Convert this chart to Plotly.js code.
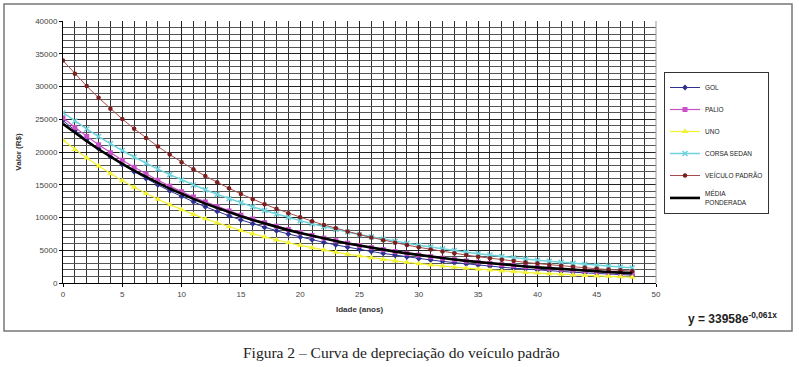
<!DOCTYPE html>
<html>
<head>
<meta charset="utf-8">
<script src="https://cdn.plot.ly/plotly-3.0.1.min.js"></script>
<style>
html,body{margin:0;padding:0;background:#fff;}
#chart{width:799px;height:367px;}
</style>
</head>
<body>
<div id="chart"></div>
<script>
// ---- data ----
const idade = [0,1,2,3,4,5,6,7,8,9,10,11,12,13,14,15,16,17,18,19,20,21,22,23,24,25,26,27,28,29,30,31,32,33,34,35,36,37,38,39,40,41,42,43,44,45,46,47,48];

const gol = [24800,23285,21862,20526,19272,18094,16989,15951,14976,14061,13202,12395,11638,10927,10259,9632,9044,8491,7972,7485,7028,6598,6195,5816,5461,5127,4814,4520,4244,3985,3741,3513,3298,3097,2907,2730,2563,2406,2259,2121,1991,1870,1755,1648,1547,1453,1364,1281,1202];

const palio = [25200,23751,22385,21098,19885,18741,17664,16648,15691,14789,13938,13137,12382,11670,10999,10366,9770,9208,8679,8180,7710,7266,6848,6454,6083,5733,5403,5093,4800,4524,4264,4019,3788,3570,3365,3171,2989,2817,2655,2502,2358,2223,2095,1975,1861,1754,1653,1558,1468];

const uno = [21800,20394,19079,17848,16697,15620,14613,13670,12788,11963,11192,10470,9795,9163,8572,8019,7502,7018,6565,6142,5746,5375,5029,4704,4401,4117,3851,3603,3370,3153,2950,2759,2581,2415,2259,2113,1977,1849,1730,1618,1514,1416,1325,1239,1159,1084,1014,949,888];

const corsa = [26000,24726,23514,22362,21266,20224,19233,18291,17394,16542,15731,14961,14228,13530,12867,12237,11637,11067,10525,10009,9519,9052,8609,8187,7786,7404,7042,6697,6369,6057,5760,5478,5209,4954,4711,4481,4261,4052,3854,3665,3485,3315,3152,2998,2851,2711,2578,2452,2332];

const padrao = [33958,31948,30058,28278,26605,25030,23549,22155,20844,19610,18450,17358,16331,15364,14455,13599,12795,12038,11325,10655,10024,9431,8873,8348,7854,7389,6952,6540,6153,5789,5446,5124,4821,4535,4267,4014,3777,3553,3343,3145,2959,2784,2619,2464,2318,2181,2052,1931,1816];

const media = [24300,22931,21639,20420,19269,18183,17159,16192,15280,14419,13606,12840,12116,11434,10790,10182,9608,9067,8556,8074,7619,7190,6785,6402,6042,5701,5380,5077,4791,4521,4266,4026,3799,3585,3383,3192,3012,2842,2682,2531,2388,2254,2127,2007,1894,1787,1686,1591,1501];

const seriesNames = ['GOL','PALIO','UNO','CORSA SEDAN','VEÍCULO PADRÃO','MÉDIA<br>PONDERADA'];
const xTicks = [0,5,10,15,20,25,30,35,40,45,50];
const yTicks = [0,5000,10000,15000,20000,25000,30000,35000,40000];
const xTitle = 'Idade (anos)';
const yTitle = 'Valor (R$)';
const equation = 'y = 33958e<sup>-0,061x</sup>';
const caption = 'Figura 2 – Curva de depreciação do veículo padrão';

// ---- traces ----
function tr(y, name, color, symbol, msize, lw, mcolor){
  const t = {x: idade, y: y, name: name, legendgroup: name, type: 'scatter',
    mode: symbol ? 'lines+markers' : 'lines',
    line: {color: color, width: lw}};
  if (symbol) {
    t.marker = {symbol: symbol, size: msize, color: mcolor || color, line: {width: 0, color: mcolor || color}};
  }
  return t;
}
const data = [
  tr(gol, seriesNames[0], '#2E3192', 'diamond', 4.5, 1),
  tr(palio, seriesNames[1], '#C94FC9', 'square', 5, 1.2),
  tr(uno, seriesNames[2], '#F2F230', 'triangle-up', 6, 1.2),
  tr(corsa, seriesNames[3], '#6FD3DC', 'x-thin-open', 5, 1.5),
  tr(padrao, seriesNames[4], '#A64B4B', 'circle', 4.5, 1, '#7A1E1E'),
  tr(media, seriesNames[5], '#000000', null, 0, 2.6)
];
data[3].marker.line = {color: '#6FD3DC', width: 1.5};

const W = 799, H = 367;
const L = 63, R = 143, T = 21, B = 84;
const pw = W - L - R, ph = H - T - B;
function px(xp){ return (xp - L) / pw; }
function py(yp){ return (H - B - yp) / ph; }

const layout = {
  width: W, height: H,
  margin: {l: L, r: R, t: T, b: B, pad: 0, autoexpand: false},
  paper_bgcolor: '#ffffff',
  plot_bgcolor: '#ffffff',
  font: {family: 'Liberation Sans, Arial, sans-serif', size: 8, color: '#333'},
  showlegend: true,
  legend: {
    x: px(664), y: py(72), xanchor: 'left', yanchor: 'top',
    bordercolor: '#333', borderwidth: 1, bgcolor: '#fff',
    font: {family: 'Liberation Sans, Arial, sans-serif', size: 6.5, color: '#222'},
    tracegroupgap: 3, itemwidth: 30
  },
  xaxis: {
    range: [0, 50], tickvals: xTicks, ticktext: xTicks.map(String),
    showgrid: true, gridcolor: '#222', gridwidth: 1,
    minor: {dtick: 1, showgrid: true, gridcolor: '#333', gridwidth: 1},
    showline: true, linecolor: '#000', linewidth: 1,
    ticks: 'outside', ticklen: 3, tickcolor: '#000',
    zeroline: false, fixedrange: true,
    tickfont: {size: 8, color: '#444'},
    title: {text: '<b>' + xTitle + '</b>', font: {size: 8, color: '#333'}, standoff: 8}
  },
  yaxis: {
    range: [0, 40000], tickvals: yTicks, ticktext: yTicks.map(String),
    showgrid: true, gridcolor: '#222', gridwidth: 1,
    minor: {dtick: 1000, showgrid: true, gridcolor: '#555', gridwidth: 1},
    showline: true, linecolor: '#000', linewidth: 1,
    ticks: 'outside', ticklen: 3, tickcolor: '#000',
    zeroline: false, fixedrange: true,
    tickfont: {size: 8, color: '#444'},
    title: {text: '<b>' + yTitle + '</b>', font: {size: 8, color: '#333'}, standoff: 12}
  },
  shapes: [
    {type: 'rect', xref: 'paper', yref: 'paper', x0: px(4), x1: px(792), y0: py(331), y1: py(4),
     line: {color: '#777', width: 1.5}, fillcolor: 'rgba(0,0,0,0)', layer: 'below'},
    {type: 'line', xref: 'paper', yref: 'paper', x0: 1, x1: 1, y0: 0, y1: 1,
     line: {color: '#999', width: 1}}
  ],
  annotations: [
    {xref: 'paper', yref: 'paper', x: px(732), y: py(318), xanchor: 'center', yanchor: 'middle',
     text: '<b>' + equation + '</b>', showarrow: false,
     font: {family: 'Liberation Sans, Arial, sans-serif', size: 12, color: '#222'}},
    {xref: 'paper', yref: 'paper', x: px(401), y: py(352), xanchor: 'center', yanchor: 'middle',
     text: caption, showarrow: false,
     font: {family: 'Liberation Serif, Times New Roman, serif', size: 15.5, color: '#222'}}
  ]
};

Plotly.newPlot('chart', data, layout, {displayModeBar: false, staticPlot: true});
</script>
</body>
</html>
